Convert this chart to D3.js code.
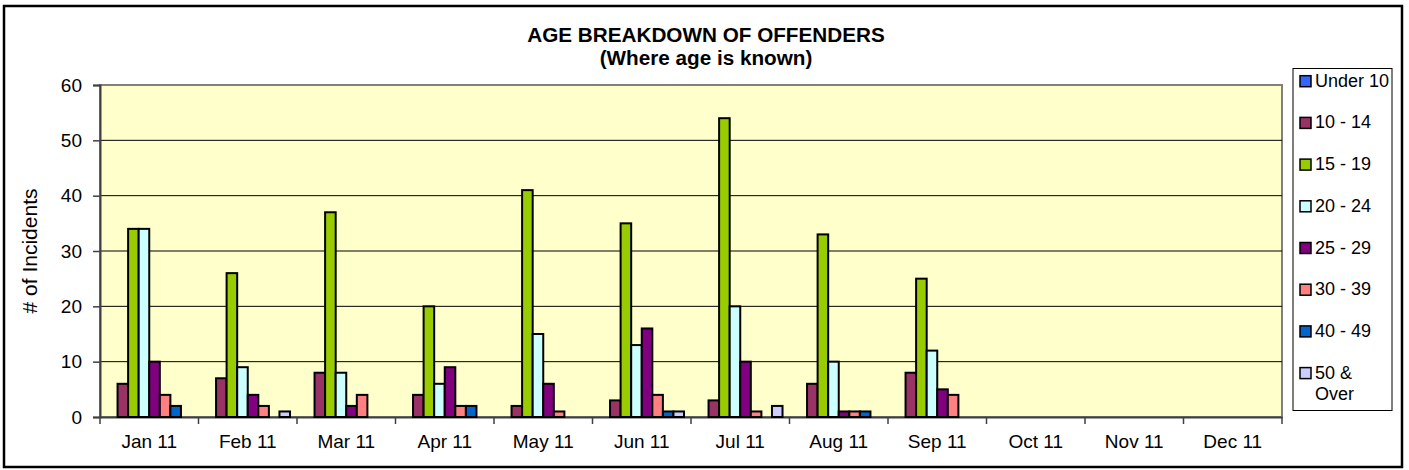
<!DOCTYPE html>
<html>
<head>
    <title>Age Breakdown of Offenders</title>
    <script src="https://d3js.org/d3.v7.min.js"></script>
    <style>
        body { margin: 0; background: #fff; }
        text { font-family: "Liberation Sans", Arial, sans-serif; fill: #000; }
    </style>
</head>
<body>
<div id="chart"></div>
<script>
const months = ["Jan 11", "Feb 11", "Mar 11", "Apr 11", "May 11", "Jun 11",
                "Jul 11", "Aug 11", "Sep 11", "Oct 11", "Nov 11", "Dec 11"];
const groups = ["Under 10", "10 - 14", "15 - 19", "20 - 24", "25 - 29", "30 - 39", "40 - 49", "50 & Over"];
const colors = ["#3366FF", "#993366", "#99CC00", "#CCFFFF", "#800080", "#FF8080", "#0066CC", "#CCCCFF"];

// one array per age group, Jan..Sep (Oct-Dec have no data)
const under10  = [0, 0, 0, 0, 0, 0, 0, 0, 0];
const age10_14 = [6, 7, 8, 4, 2, 3, 3, 6, 8];
const age15_19 = [34, 26, 37, 20, 41, 35, 54, 33, 25];
const age20_24 = [34, 9, 8, 6, 15, 13, 20, 10, 12];
const age25_29 = [10, 4, 2, 9, 6, 16, 10, 1, 5];
const age30_39 = [4, 2, 4, 2, 1, 4, 1, 1, 4];
const age40_49 = [2, 0, 0, 2, 0, 1, 0, 1, 0];
const age50up  = [0, 1, 0, 0, 0, 1, 2, 0, 0];
const yTicks = [0, 10, 20, 30, 40, 50, 60];

const series = [under10, age10_14, age15_19, age20_24, age25_29, age30_39, age40_49, age50up];

const W = 1409, H = 470;
const plot = { left: 100, right: 1282, top: 85, bottom: 417 };
const FONT = "'Liberation Sans', Arial, sans-serif";

const svg = d3.select("#chart").append("svg")
    .attr("width", W).attr("height", H);

// outer chart border
svg.append("rect")
    .attr("x", 4).attr("y", 6).attr("width", 1398).attr("height", 461)
    .attr("fill", "#fff").attr("stroke", "#000").attr("stroke-width", 2.5);

const x0 = d3.scaleBand().domain(months).range([plot.left, plot.right]);
const x1 = d3.scaleBand().domain(groups).range([0, x0.bandwidth()]).paddingOuter(0.66);
const y = d3.scaleLinear().domain([0, 60]).range([plot.bottom, plot.top]);

// plot area
svg.append("rect")
    .attr("x", plot.left).attr("y", plot.top)
    .attr("width", plot.right - plot.left).attr("height", plot.bottom - plot.top)
    .attr("fill", "#FFFFCC").attr("stroke", "#808080").attr("stroke-width", 2);

// gridlines
svg.selectAll(".grid")
    .data(yTicks.filter(d => d > 0 && d < 60))
    .join("line")
    .attr("x1", plot.left).attr("x2", plot.right)
    .attr("y1", d => y(d)).attr("y2", d => y(d))
    .attr("stroke", "#000").attr("stroke-width", 1);

// y axis
const yAxis = svg.append("g")
    .attr("transform", `translate(${plot.left},0)`)
    .call(d3.axisLeft(y).tickValues(yTicks).tickSize(7).tickPadding(11));
yAxis.select(".domain").attr("stroke", "#404040").attr("stroke-width", 2);
yAxis.selectAll(".tick line").attr("stroke", "#404040").attr("stroke-width", 1.5);
yAxis.selectAll(".tick text").style("font-size", "19px").style("font-family", FONT);

// x axis
const xAxis = svg.append("g")
    .attr("transform", `translate(0,${plot.bottom})`)
    .call(d3.axisBottom(x0).tickSize(0).tickPadding(18));
xAxis.select(".domain").attr("stroke", "#404040").attr("stroke-width", 2);
xAxis.selectAll(".tick text").style("font-size", "19px").style("font-family", FONT);
svg.append("g").selectAll("line")
    .data(d3.range(months.length + 1))
    .join("line")
    .attr("x1", i => plot.left + i * x0.step()).attr("x2", i => plot.left + i * x0.step())
    .attr("y1", plot.bottom).attr("y2", plot.bottom + 7)
    .attr("stroke", "#404040").attr("stroke-width", 1.5);

// bars
const cells = [];
series.forEach((vals, si) => {
    vals.forEach((v, mi) => {
        if (v > 0) cells.push({ month: months[mi], group: groups[si], color: colors[si], value: v });
    });
});
svg.append("g").selectAll("rect")
    .data(cells)
    .join("rect")
    .attr("x", d => x0(d.month) + x1(d.group))
    .attr("y", d => y(d.value))
    .attr("width", x1.bandwidth())
    .attr("height", d => y(0) - y(d.value))
    .attr("fill", d => d.color)
    .attr("stroke", "#000").attr("stroke-width", 2);

// titles
svg.append("text").attr("x", 706).attr("y", 42).attr("text-anchor", "middle")
    .style("font-size", "20.7px").style("font-weight", "bold")
    .text("AGE BREAKDOWN OF OFFENDERS");
svg.append("text").attr("x", 706).attr("y", 65).attr("text-anchor", "middle")
    .style("font-size", "20.7px").style("font-weight", "bold")
    .text("(Where age is known)");
svg.append("text")
    .attr("transform", `translate(37,${(plot.top + plot.bottom) / 2}) rotate(-90)`)
    .attr("text-anchor", "middle")
    .style("font-size", "21px")
    .text("# of Incidents");

// legend
const legend = svg.append("g");
legend.append("rect")
    .attr("x", 1293).attr("y", 68.5).attr("width", 99).attr("height", 342)
    .attr("fill", "#fff").attr("stroke", "#000").attr("stroke-width", 1);
const item = legend.selectAll(".item")
    .data(groups)
    .join("g")
    .attr("transform", (d, i) => `translate(0,${86.7 + i * 41.7})`);
item.append("rect")
    .attr("x", 1300).attr("y", -11).attr("width", 11).attr("height", 11)
    .attr("fill", (d, i) => colors[i]).attr("stroke", "#000").attr("stroke-width", 1.5);
item.append("text")
    .attr("x", 1315).attr("y", 0)
    .style("font-size", "18px")
    .each(function(d) {
        const parts = d === "50 & Over" ? ["50 &", "Over"] : [d];
        d3.select(this).selectAll("tspan")
            .data(parts)
            .join("tspan")
            .attr("x", 1315)
            .attr("dy", (p, j) => j === 0 ? 0 : 21)
            .text(p => p);
    });
</script>
</body>
</html>
